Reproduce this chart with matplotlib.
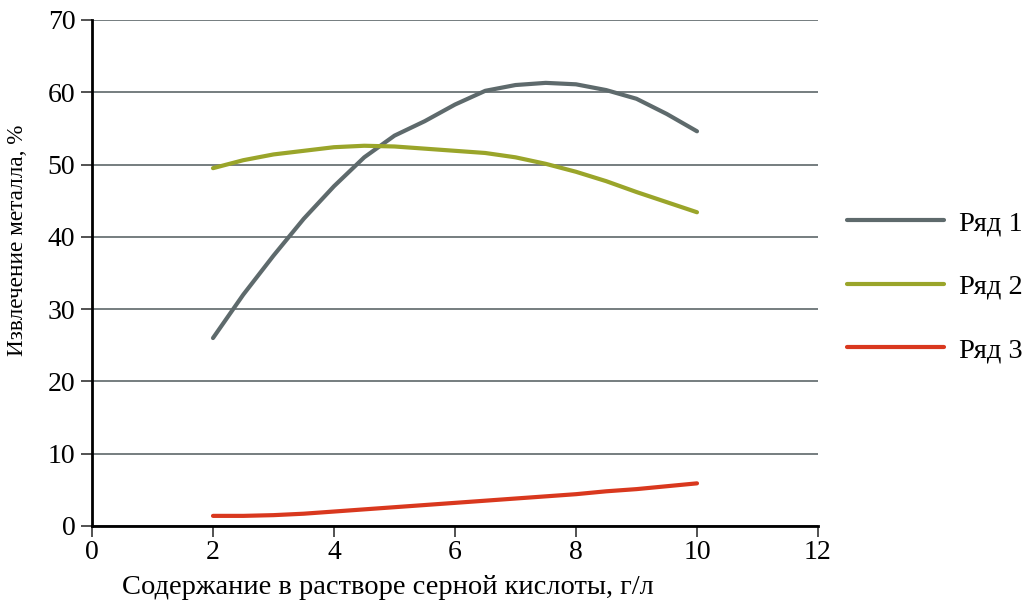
import matplotlib
matplotlib.use("Agg")
import matplotlib.pyplot as plt

# содержание серной кислоты, г/л
kislota = [2, 2.5, 3, 3.5, 4, 4.5, 5, 5.5, 6, 6.5, 7, 7.5, 8, 8.5, 9, 9.5, 10]

# извлечение металла, %
ryad1 = [26.0, 32.0, 37.4, 42.5, 47.0, 51.0, 54.0, 56.0, 58.3, 60.2, 61.0, 61.3,
         61.1, 60.3, 59.1, 57.0, 54.6]
ryad2 = [49.5, 50.6, 51.4, 51.9, 52.4, 52.6, 52.5, 52.2, 51.9, 51.6, 51.0, 50.1,
         49.0, 47.7, 46.2, 44.8, 43.4]
ryad3 = [1.4, 1.4, 1.5, 1.7, 2.0, 2.3, 2.6, 2.9, 3.2, 3.5, 3.8, 4.1, 4.4, 4.8,
         5.1, 5.5, 5.9]

nazvaniya = ["Ряд 1", "Ряд 2", "Ряд 3"]
cveta = ["#5e6a6c", "#9aa52a", "#d9381e"]

plt.rcParams['font.family'] = ['Liberation Serif', 'DejaVu Serif']

fig = plt.figure(figsize=(10.28, 6.09), dpi=100)
ax = fig.add_axes([0.0895, 0.1363, 0.7062, 0.8309])

for y, name, c in zip([ryad1, ryad2, ryad3], nazvaniya, cveta):
    ax.plot(kislota, y, color=c, lw=3, label=name,
            solid_capstyle='round', solid_joinstyle='round')

ax.set_xlim(0, 12)
ax.set_ylim(0, 70)
ax.set_xticks(range(0, 13, 2))
ax.set_yticks(range(0, 71, 10))
ax.yaxis.grid(True, color="#4f5a5c", lw=1.1)
ax.set_axisbelow(True)

for s in ["top", "right"]:
    ax.spines[s].set_visible(False)
for s in ["left", "bottom"]:
    ax.spines[s].set_linewidth(2)
    ax.spines[s].set_color("black")

ax.tick_params(axis='both', labelsize=20, length=8, width=1.2, color="#333333")
ax.tick_params(axis='y', pad=4)
ax.tick_params(axis='x', pad=2)

ax.set_xlabel("Содержание в растворе серной кислоты, г/л", fontsize=20.5)
ax.xaxis.set_label_coords(0.408, -0.097)
ax.set_ylabel("Извлечение металла, %", fontsize=16.7)
ax.yaxis.set_label_coords(-0.088, 0.565)

fig.legend(loc='center left', bbox_to_anchor=(0.824, 0.529), frameon=False,
           fontsize=20.5, handlelength=3.4, handletextpad=0.53, labelspacing=1.32,
           borderpad=0, borderaxespad=0)

fig.savefig("out.png", dpi=100)
